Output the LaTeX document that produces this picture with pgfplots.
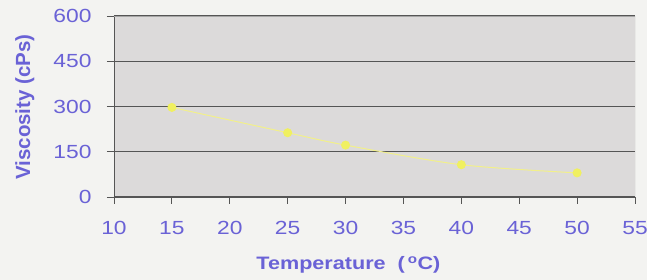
\documentclass[border=0pt]{standalone}
\usepackage{fontspec}
\setmainfont{Liberation Sans}
\newfontfamily\widefont[FakeStretch=1.2]{Liberation Sans}
\usepackage{pgfplots}
\pgfplotsset{compat=1.18}
\definecolor{lblue}{HTML}{6A62D6}
\definecolor{plotbg}{HTML}{DCDADA}
\definecolor{pagebg}{HTML}{F3F3F1}
\definecolor{gridc}{HTML}{555555}
\definecolor{lineyel}{HTML}{F2F08A}
\definecolor{markyel}{HTML}{F0F060}
\begin{document}
\begin{tikzpicture}
\path[use as bounding box, fill=pagebg] (-114pt,-83pt) rectangle (533pt,197pt);
\begin{axis}[
  at={(0pt,0pt)}, anchor=south west,
  scale only axis, width=521pt, height=181pt,
  xmin=10, xmax=55, ymin=0, ymax=600,
  xtick={10,15,...,55}, ytick={0,150,300,450,600},
  axis background/.style={fill=plotbg},
  axis line style={gridc, line width=0.8pt},
  axis x line*=bottom, axis y line*=left,
  ymajorgrids, grid style={gridc, line width=1pt},
  tick style={gridc, line width=0.8pt},
  tick align=outside, major tick length=7pt,
  /pgf/number format/assume math mode=true,
  ticklabel style={font=\fontsize{19}{21}\selectfont\widefont, text=lblue},
  yticklabel style={xshift=-12pt},
  xticklabel style={yshift=-14pt},
  xlabel={\textbf{Temperature\ \ (\,\textsuperscript{o}C)}},
  ylabel={\textbf{Viscosity (cPs)}},
  xlabel style={font=\fontsize{18}{20}\selectfont\widefont, text=lblue, at={(axis description cs:0.45,0)}, anchor=center, yshift=-68pt},
  ylabel style={font=\fontsize{20.5}{22}\selectfont, text=lblue, at={(axis description cs:-0.171,0.497)}, anchor=center},
]
\draw[gray!70, line width=0.6pt] (axis cs:10,600) -- (axis cs:55,600) -- (axis cs:55,0);
\addplot[lineyel, line width=1pt, smooth, mark=*, mark size=4pt, mark options={fill=markyel, draw=markyel}]
  coordinates {(15,297) (25,213) (30,172) (40,107) (50,80)};
\end{axis}
\end{tikzpicture}
\end{document}
